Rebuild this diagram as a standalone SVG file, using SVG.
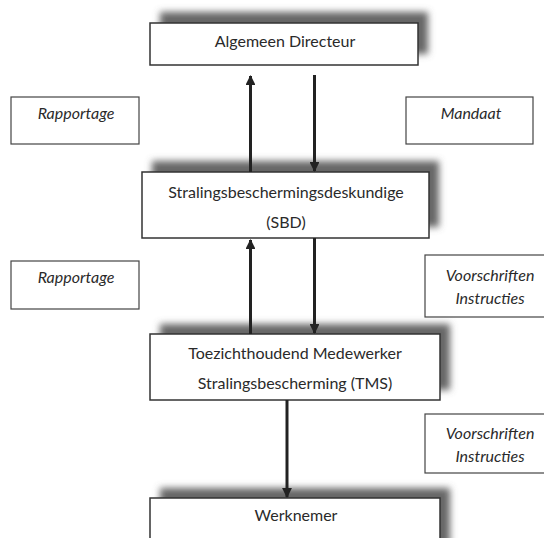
<svg xmlns="http://www.w3.org/2000/svg" width="544" height="538" viewBox="0 0 544 538">
<style>
.box{fill:#fff;stroke:#333;stroke-width:1.5}
.lbl{fill:#fff;stroke:#444;stroke-width:1.2}
.sh{fill:#666;filter:url(#blur)}
.t{font-family:Lato,"Open Sans",sans-serif;font-size:16px;fill:#2a2a2a;text-anchor:middle}
.i{font-family:Lato,"Open Sans",sans-serif;font-size:16px;font-style:italic;fill:#2a2a2a;text-anchor:middle}
.ln{stroke:#222;stroke-width:3;fill:none}
</style>
<defs>
<filter id="blur" x="-10%" y="-30%" width="120%" height="160%"><feGaussianBlur stdDeviation="3.5"/></filter>
<marker id="ah" viewBox="0 0 10 10" refX="9" refY="5" markerWidth="3.3" markerHeight="3.3" orient="auto" markerUnits="strokeWidth"><path d="M0,0 L10,5 L0,10 z" fill="#222"/></marker>
</defs>
<rect width="544" height="538" fill="#fff"/>
<g id="n-directeur">
<rect class="sh" x="160" y="12" width="268" height="42"/>
<rect class="box" x="150" y="23" width="268" height="42"/>
<text class="t" x="285" y="47">Algemeen Directeur</text>
</g>
<g id="n-rapportage1">
<rect class="lbl" x="11" y="97" width="128" height="47"/>
<text class="i" x="76" y="119">Rapportage</text>
</g>
<g id="n-mandaat">
<rect class="lbl" x="406" y="97" width="127" height="47"/>
<text class="i" x="471" y="119">Mandaat</text>
</g>
<g id="n-sbd">
<rect class="sh" x="152" y="161" width="287" height="66"/>
<rect class="box" x="142" y="172" width="287" height="66"/>
<text class="t" x="286" y="198">Stralingsbeschermingsdeskundige</text>
<text class="t" x="286" y="228">(SBD)</text>
</g>
<g id="n-rapportage2">
<rect class="lbl" x="11" y="261" width="128" height="48"/>
<text class="i" x="76" y="283">Rapportage</text>
</g>
<g id="n-voorschriften1">
<rect class="lbl" x="425" y="255" width="130" height="62"/>
<text class="i" x="490" y="281">Voorschriften</text>
<text class="i" x="490" y="304">Instructies</text>
</g>
<g id="n-tms">
<rect class="sh" x="160" y="324" width="290" height="66"/>
<rect class="box" x="150" y="334" width="290" height="66"/>
<text class="t" x="295" y="359">Toezichthoudend Medewerker</text>
<text class="t" x="295" y="389">Stralingsbescherming (TMS)</text>
</g>
<g id="n-voorschriften2">
<rect class="lbl" x="425" y="414" width="130" height="59"/>
<text class="i" x="490" y="439">Voorschriften</text>
<text class="i" x="490" y="462">Instructies</text>
</g>
<g id="n-werknemer">
<rect class="sh" x="160" y="488" width="290" height="70"/>
<rect class="box" x="150" y="498" width="290" height="70"/>
<text class="t" x="296" y="521">Werknemer</text>
</g>
<g id="connectors">
<line class="ln" x1="250.5" y1="172" x2="250.5" y2="76" marker-end="url(#ah)"/>
<line class="ln" x1="314.5" y1="75" x2="314.5" y2="171" marker-end="url(#ah)"/>
<line class="ln" x1="250.5" y1="334" x2="250.5" y2="240" marker-end="url(#ah)"/>
<line class="ln" x1="314.5" y1="238" x2="314.5" y2="333" marker-end="url(#ah)"/>
<line class="ln" x1="287" y1="400" x2="287" y2="497" marker-end="url(#ah)"/>
</g>
</svg>
